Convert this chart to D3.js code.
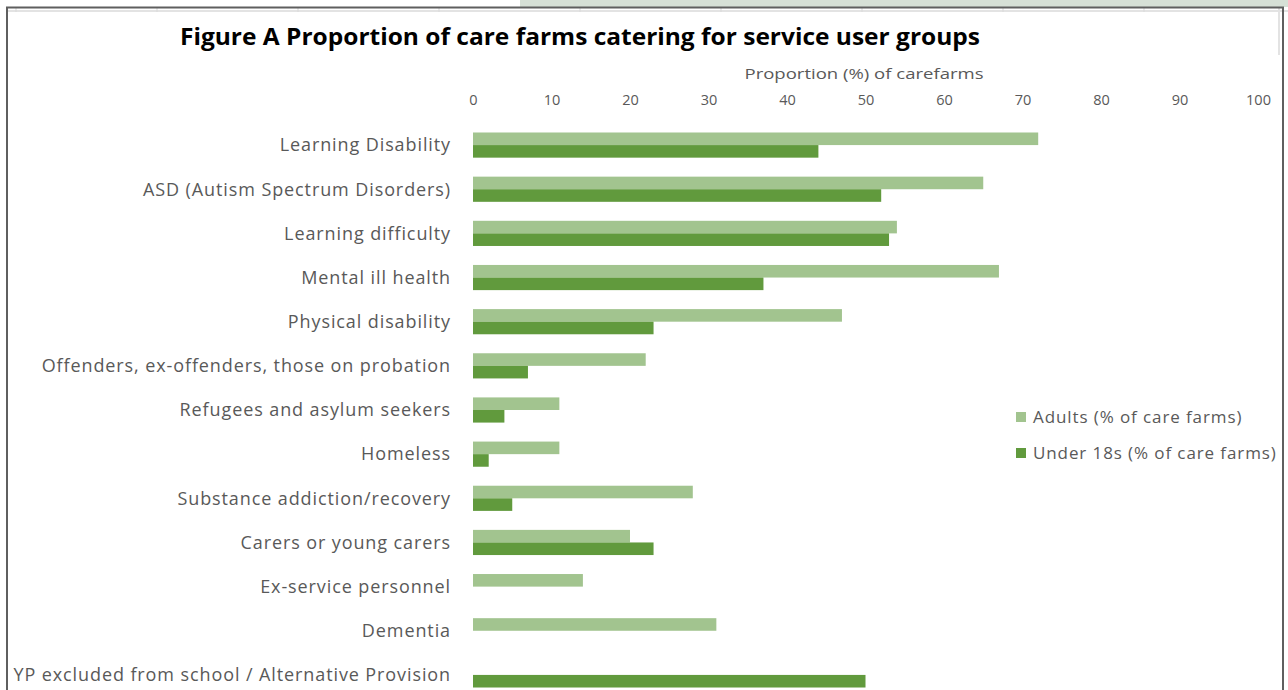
<!DOCTYPE html>
<html><head><meta charset="utf-8">
<script src="https://cdn.jsdelivr.net/npm/d3@7"></script>
<style>
html,body{margin:0;padding:0;background:#fff;}
svg{display:block;font-family:"Open Sans",sans-serif;}
</style></head>
<body>
<svg id="c" width="1288" height="690"></svg>
<script>
const categories = ["Learning Disability","ASD (Autism Spectrum Disorders)","Learning difficulty","Mental ill health","Physical disability","Offenders, ex-offenders, those on probation","Refugees and asylum seekers","Homeless","Substance addiction/recovery","Carers or young carers","Ex-service personnel","Dementia","YP excluded from school / Alternative Provision"];
const adults = [72,65,54,67,47,22,11,11,28,20,14,31,null];
const under18 = [44,52,53,37,23,7,4,2,5,23,null,null,50];
const seriesNames = ["Adults (% of care farms)","Under 18s (% of care farms)"];
const xTicks = [0,10,20,30,40,50,60,70,80,90,100];
const title = "Figure A Proportion of care farms catering for service user groups";
const axisTitle = "Proportion (%) of carefarms";
const colors = ["#a2c48f","#619a3d"];

const svg = d3.select("#c");

svg.append("rect").attr("x",520).attr("y",0).attr("width",768).attr("height",7).attr("fill","#d6e0d6");
svg.append("line").attr("x1",8).attr("x2",1288).attr("y1",11).attr("y2",11).attr("stroke","#e3e3e3").attr("stroke-width",2);
[16,157,298,439,580,721,862,1003,1144].forEach(x=>{
  svg.append("line").attr("x1",x).attr("x2",x).attr("y1",8).attr("y2",12).attr("stroke","#d9d9d9");
});
svg.append("line").attr("x1",1279).attr("x2",1279).attr("y1",8).attr("y2",55).attr("stroke","#e3e3e3").attr("stroke-width",2);

const x = d3.scaleLinear().domain([0,100]).range([473,1258]);
const y = d3.scaleBand().domain(categories).range([123,697]).paddingInner(0.43).paddingOuter(0.215);
const sub = d3.scaleBand().domain([0,1]).range([0,y.bandwidth()]);

function fit(sel, w){ sel.each(function(){ const L=this.getComputedTextLength(); if(L>0) d3.select(this).attr("textLength",w).attr("lengthAdjust","spacingAndGlyphs"); }); }

svg.append("text").attr("x",580).attr("y",45).attr("text-anchor","middle")
  .attr("font-size",24).attr("font-weight","bold").attr("fill","#000").text(title)
  .call(fit, 800);
svg.append("text").attr("x",864).attr("y",79).attr("text-anchor","middle")
  .attr("font-size",15).attr("fill","#595959").text(axisTitle).call(fit, 239);

const ax = svg.append("g").attr("transform","translate(0,105)")
  .call(d3.axisTop(x).tickValues(xTicks).tickSize(0).tickPadding(0));
ax.select(".domain").remove();
ax.selectAll("text").attr("font-size",14.5).attr("fill","#595959").attr("font-family","'Open Sans',sans-serif");

svg.append("g").selectAll("text").data(categories).join("text")
  .attr("x",451).attr("y",d=>y(d)+y.bandwidth()/2).attr("dy","0.35em")
  .attr("text-anchor","end").attr("font-size",18).attr("letter-spacing",0.9).attr("fill","#595959").text(d=>d);

const series = [adults, under18];
series.forEach((vals,si)=>{
  svg.append("g").selectAll("rect").data(categories.map((c,i)=>({c,v:vals[i]})).filter(d=>d.v!=null)).join("rect")
    .attr("x",x(0)).attr("y",d=>y(d.c)+sub(si)).attr("height",sub.bandwidth())
    .attr("width",d=>x(d.v)-x(0)).attr("fill",colors[si]);
});

const lg = svg.append("g");
seriesNames.forEach((n,i)=>{
  const yy = 417 + i*36;
  lg.append("rect").attr("x",1016).attr("y",yy-5).attr("width",10).attr("height",10).attr("fill",colors[i]);
  lg.append("text").attr("x",1033).attr("y",yy).attr("dy","0.35em").attr("font-size",17).attr("letter-spacing",0.9).attr("fill","#595959").text(n);
});

// frame drawn last so it clips visually over text overflow on the left
svg.append("rect").attr("x",0).attr("y",8).attr("width",6).attr("height",682).attr("fill","#fff");
svg.append("path").attr("d","M7,690 V7.5 H1283 V690").attr("fill","none").attr("stroke","#5f5f5f").attr("stroke-width",2);
</script>
</body></html>
